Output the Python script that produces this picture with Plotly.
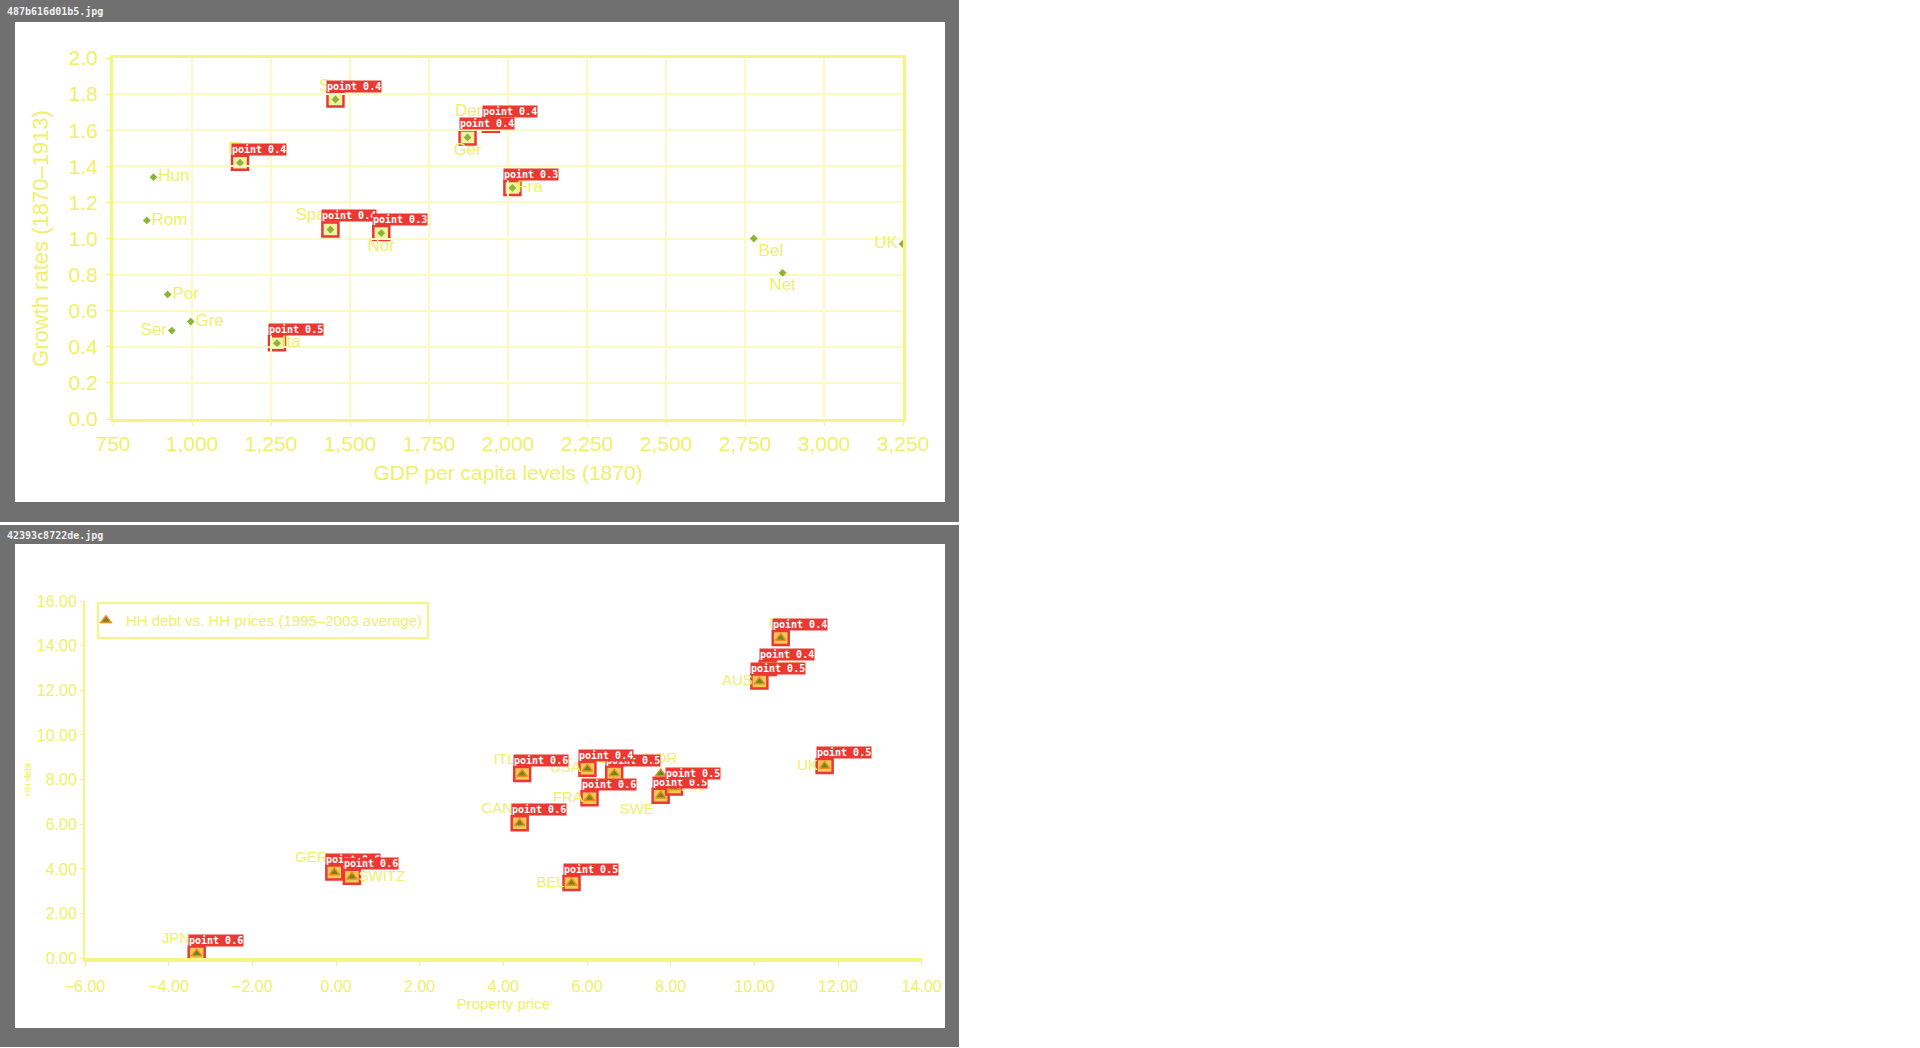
import plotly.graph_objects as go

W, H = 1920, 1048

# ---------------- data: top chart ----------------
top_countries = ["Swe", "Fin", "Hun", "Rom", "Spa", "Nor", "Den", "Ger", "Fra",
                 "Bel", "Net", "UK", "Por", "Gre", "Ser", "Ita"]
top_gdp = [1454, 1152, 878, 857, 1438, 1599, 1946, 1872, 2014,
           2778, 2869, 3249, 923, 996, 936, 1269]
top_growth = [1.77, 1.42, 1.34, 1.10, 1.05, 1.03, 1.63, 1.56, 1.28,
              1.00, 0.81, 0.97, 0.69, 0.54, 0.49, 0.42]
top_textpos = ["top center", "top center", "middle right", "middle right", "top left",
               "bottom center", "top left", "bottom center", "middle right",
               "bottom right", "bottom center", "middle left", "middle right",
               "middle right", "middle left", "middle right"]
top_conf = ["0.4", "0.4", None, None, "0.4", "0.3", "0.4", "0.4", "0.3",
            None, None, None, None, None, None, "0.5"]
top_xticks = [750, 1000, 1250, 1500, 1750, 2000, 2250, 2500, 2750, 3000, 3250]
highlight_gdp = 1750

# ---------------- data: bottom chart ----------------
bot_countries = ["IRL", "NET", "AUS", "UK", "ITL", "ESP", "USA", "NOR", "SWE", "FIN",
                 "FRA", "CAN", "BEL", "GER", "SWITZ", "JPN"]
bot_price = [10.63, 10.32, 10.12, 11.68, 4.45, 6.65, 6.01, 7.76, 7.76, 8.08,
             6.06, 4.39, 5.63, -0.04, 0.38, -3.33]
bot_debt = [14.34, 13.00, 12.39, 8.61, 8.25, 8.27, 8.49, 8.27, 7.28, 7.65,
            7.17, 6.05, 3.37, 3.84, 3.65, 0.21]
bot_textpos = ["top center", "middle right", "middle left", "middle left", "top left",
               "top center", "middle left", "top center", "bottom left", "middle right",
               "middle left", "top left", "middle left", "top left", "middle right",
               "top left"]
bot_conf = ["0.4", "0.4", "0.5", "0.5", "0.6", "0.5", "0.4", None, "0.5", "0.5",
            "0.6", "0.6", "0.5", "0.6", "0.6", "0.6"]
legend_name = "HH debt vs. HH prices (1995\u20132003 average)"

# ---------------- helpers ----------------
def px(x):
    return x / W

def py(y):
    return 1 - y / H

YEL_TEXT = "rgb(240,240,105)"
YEL_LINE = "rgb(245,245,130)"
YEL_GRID = "rgb(250,250,195)"
GRAY = "rgb(112,112,112)"
RED = "rgb(234,56,50)"
SANS = "Liberation Sans, Arial, sans-serif"
MONO = "DejaVu Sans Mono, monospace"

fig = go.Figure()

fig.add_trace(go.Scatter(
    x=top_gdp, y=top_growth, text=top_countries, mode="markers+text",
    textposition=top_textpos, textfont=dict(family=SANS, size=17, color=YEL_TEXT),
    marker=dict(symbol="diamond", size=6, color="rgb(140,180,55)"),
    xaxis="x", yaxis="y", showlegend=False, cliponaxis=False))

fig.add_trace(go.Scatter(
    x=bot_price, y=bot_debt, text=bot_countries, mode="markers+text",
    name=legend_name,
    textposition=bot_textpos, textfont=dict(family=SANS, size=15, color=YEL_TEXT),
    marker=dict(symbol="triangle-up", size=9, color="rgb(100,135,40)",
                line=dict(color="rgb(240,140,30)", width=1.5)),
    xaxis="x2", yaxis="y2", showlegend=True, cliponaxis=False))

shapes = []
# panels
for (x0, y0, x1, y1, col) in [(0, 0, 959, 522, GRAY), (15, 22, 945, 502, "white"),
                              (0, 525, 959, 1047, GRAY), (15, 544, 945, 1028, "white")]:
    shapes.append(dict(type="rect", xref="paper", yref="paper",
                       x0=px(x0), x1=px(x1), y0=py(y1), y1=py(y0),
                       fillcolor=col, line=dict(width=0), layer="below"))
# lavender gridline
shapes.append(dict(type="line", xref="x", yref="y domain", x0=highlight_gdp, x1=highlight_gdp,
                   y0=0, y1=1, line=dict(color="rgb(232,226,242)", width=2), layer="below"))

annotations = []
# detection boxes + tags
def add_boxes(xs, ys, confs, xr, yr, fill):
    for xv, yv, c in zip(xs, ys, confs):
        if c is None:
            continue
        shapes.append(dict(type="rect", xref=xr, yref=yr,
                           xsizemode="pixel", ysizemode="pixel",
                           xanchor=xv, yanchor=yv, x0=-8, x1=8, y0=-7, y1=7,
                           fillcolor=fill, line=dict(color=RED, width=2.5), layer="below"))
        annotations.append(dict(xref=xr, yref=yr, x=xv, y=yv, text="point " + c,
                                showarrow=False, xanchor="left", yanchor="bottom",
                                xshift=-9, yshift=7, bgcolor=RED, borderpad=0,
                                font=dict(family=MONO, size=10, color="white", weight="bold")))

add_boxes(top_gdp, top_growth, top_conf, "x", "y", "rgba(235,238,140,0.8)")
add_boxes(bot_price, bot_debt, bot_conf, "x2", "y2", "rgba(238,190,60,0.85)")

# file headers
for name, yc in [("487b616d01b5.jpg", 11), ("42393c8722de.jpg", 535)]:
    annotations.append(dict(xref="paper", yref="paper", x=px(5), y=py(yc), text=name,
                            showarrow=False, xanchor="left", yanchor="middle",
                            font=dict(family=MONO, size=10, color="rgb(240,240,240)",
                                      weight="bold")))

fig.update_layout(
    template="none",
    width=W, height=H, autosize=False,
    margin=dict(l=0, r=0, t=0, b=0, pad=0, autoexpand=False),
    paper_bgcolor="white", plot_bgcolor="rgba(0,0,0,0)",
    shapes=shapes, annotations=annotations,
    xaxis=dict(domain=[px(113), px(903)], range=[750, 3250], tickvals=top_xticks,
               tickformat=",d", showgrid=True, gridcolor=YEL_GRID, gridwidth=2,
               showline=True, linecolor=YEL_LINE, linewidth=3, mirror=True,
               ticks="outside", ticklen=4, tickcolor=YEL_LINE, zeroline=False,
               automargin=False,
               tickfont=dict(family=SANS, size=21, color=YEL_TEXT),
               title=dict(text="GDP per capita levels (1870)", standoff=12,
                          font=dict(family=SANS, size=21, color=YEL_TEXT)),
               anchor="y", fixedrange=True),
    yaxis=dict(domain=[py(419), py(58)], range=[0, 2.0], dtick=0.2, tickformat=".1f",
               showgrid=True, gridcolor=YEL_GRID, gridwidth=2,
               showline=True, linecolor=YEL_LINE, linewidth=3, mirror=True,
               ticks="outside", ticklen=4, tickcolor=YEL_LINE, zeroline=False,
               automargin=False, ticklabelstandoff=4,
               tickfont=dict(family=SANS, size=21, color=YEL_TEXT),
               title=dict(text="Growth rates (1870\u20131913)", standoff=14,
                          font=dict(family=SANS, size=22, color=YEL_TEXT)),
               anchor="x", fixedrange=True),
    xaxis2=dict(domain=[px(85), px(921.7)], range=[-6, 14], dtick=2, tickformat=".2f",
                showgrid=False, zeroline=False, showline=True, linecolor=YEL_LINE,
                linewidth=4, ticks="outside", ticklen=4, tickcolor=YEL_LINE,
                ticklabelstandoff=6, automargin=False,
                tickfont=dict(family=SANS, size=16, color=YEL_TEXT),
                title=dict(text="Property price", standoff=6,
                           font=dict(family=SANS, size=15, color=YEL_TEXT)),
                anchor="y2", fixedrange=True),
    yaxis2=dict(domain=[py(958.3), py(601)], range=[0, 16], dtick=2, tickformat=".2f",
                showgrid=False, zeroline=False, showline=True, linecolor=YEL_LINE,
                linewidth=2, ticks="outside", ticklen=3, tickcolor=YEL_LINE,
                automargin=False,
                tickfont=dict(family=SANS, size=16, color=YEL_TEXT),
                title=dict(text="HH debt", standoff=4,
                           font=dict(family=SANS, size=9, color=YEL_TEXT)),
                anchor="x2", fixedrange=True),
    legend=dict(x=px(97), y=py(602), xanchor="left", yanchor="top",
                bgcolor="rgba(255,255,255,0)", bordercolor=YEL_LINE, borderwidth=2,
                font=dict(family=SANS, size=15, color=YEL_TEXT), itemwidth=30,
                indentation=-13),
)

fig.write_html("out.html", config={"displayModeBar": False},
               post_script="document.body.style.margin='0';document.body.style.overflow='hidden';")
